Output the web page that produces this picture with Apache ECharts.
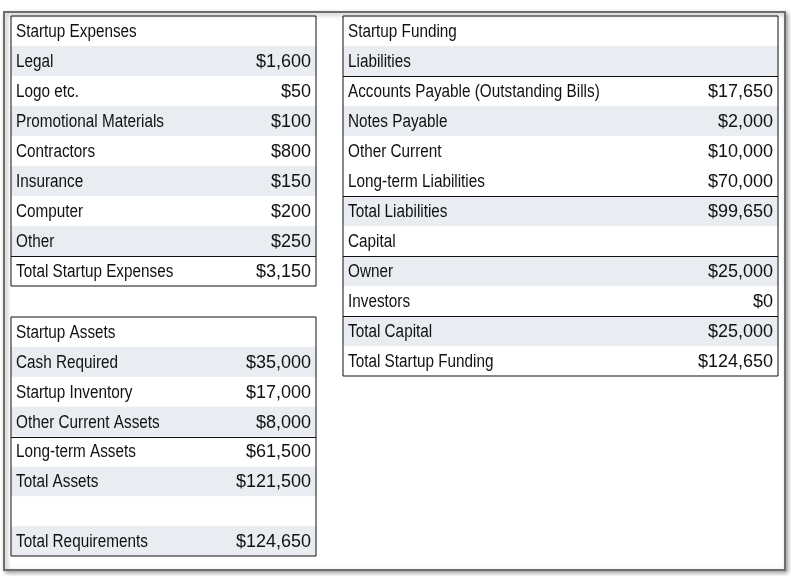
<!DOCTYPE html>
<html>
<head>
<meta charset="utf-8">
<script src="https://cdn.jsdelivr.net/npm/echarts@6/dist/echarts.min.js"></script>
<style>
html,body{margin:0;padding:0;background:#fff;}
#c{width:791px;height:576px;}
</style>
</head>
<body>
<div id="c"></div>
<script>
// ---- Data ----
const expenseLabels = ['Startup Expenses','Legal','Logo etc.','Promotional Materials','Contractors','Insurance','Computer','Other','Total Startup Expenses'];
const expenseValues = [null,1600,50,100,800,150,200,250,3150];
const expenseShaded = [0,1,0,1,0,1,0,1,0];
const expenseRules  = [8];

const assetLabels = ['Startup Assets','Cash Required','Startup Inventory','Other Current Assets','Long-term Assets','Total Assets','','Total Requirements'];
const assetValues = [null,35000,17000,8000,61500,121500,null,124650];
const assetShaded = [0,1,0,1,0,1,0,1];
const assetRules  = [4];

const fundingLabels = ['Startup Funding','Liabilities','Accounts Payable (Outstanding Bills)','Notes Payable','Other Current','Long-term Liabilities','Total Liabilities','Capital','Owner','Investors','Total Capital','Total Startup Funding'];
const fundingValues = [null,null,17650,2000,10000,70000,99650,null,25000,0,25000,124650];
const fundingShaded = [0,1,0,1,0,0,1,0,1,0,1,0];
const fundingRules  = [2,6,8,10];

// ---- Rendering ----
const FONT = '18px "Liberation Sans", Arial, sans-serif';
const SHADE = '#e9edf1';
const fmt = v => '$' + v.toLocaleString('en-US');

const tables = [
  {labels: expenseLabels, values: expenseValues, shaded: expenseShaded, rules: expenseRules, box:{left:11, top:16, width:305, height:270}},
  {labels: assetLabels, values: assetValues, shaded: assetShaded, rules: assetRules, box:{left:11, top:317, width:305, height:239}},
  {labels: fundingLabels, values: fundingValues, shaded: fundingShaded, rules: fundingRules, box:{left:343, top:16, width:435, height:360}}
];

const grid = [], xAxis = [], yAxis = [], series = [];
tables.forEach((t, k) => {
  grid.push(Object.assign({show:true, borderColor:'#111', borderWidth:1, backgroundColor:'transparent', z:5}, t.box));
  xAxis.push({type:'value', gridIndex:k, min:0, max:1, show:false});
  yAxis.push({type:'category', gridIndex:k, inverse:true, data:t.labels.map((l,i)=>String(i)), show:false, boundaryGap:true});
  series.push({
    type:'custom', xAxisIndex:k, yAxisIndex:k, z:2,
    data: t.labels.map((l,i)=>[0.5, i]),
    encode:{x:0, y:1},
    silent:true,
    renderItem:(params, api) => {
      const i = api.value(1);
      const p0 = api.coord([0, i]);
      const p1 = api.coord([1, i]);
      const h = api.size([0, 1])[1];
      const top = p0[1] - h/2;
      const children = [];
      if (t.shaded[i]) {
        children.push({type:'rect', shape:{x:p0[0], y:top, width:p1[0]-p0[0], height:h}, style:{fill:SHADE}});
      }
      if (t.rules.indexOf(i) >= 0) {
        const yy = Math.round(top) + 0.5;
        children.push({type:'line', shape:{x1:p0[0], y1:yy, x2:p1[0], y2:yy}, style:{stroke:'#111', lineWidth:1}});
      }
      children.push({type:'text', x:p0[0]+5, y:p0[1]+1, scaleX:0.85,
        style:{text:t.labels[i], x:0, y:0, align:'left', verticalAlign:'middle', font:FONT, fill:'#111'}});
      if (t.values[i] !== null && t.values[i] !== undefined) {
        children.push({type:'text', x:p1[0]-5, y:p0[1]+1,
          style:{text:fmt(t.values[i]), x:0, y:0, align:'right', verticalAlign:'middle', font:FONT, fill:'#111'}});
      }
      return {type:'group', children};
    }
  });
});

const chart = echarts.init(document.getElementById('c'), null, {renderer:'canvas'});
chart.setOption({
  backgroundColor:'#ffffff',
  animation:false,
  graphic:[{
    type:'rect', left:3, top:11, z:0,
    shape:{width:781, height:558},
    style:{fill:'#fff', stroke:'#6e6e6e', lineWidth:2, shadowBlur:4, shadowOffsetX:2, shadowOffsetY:2, shadowColor:'rgba(0,0,0,0.35)'}
  }],
  grid, xAxis, yAxis, series
});
</script>
</body>
</html>
